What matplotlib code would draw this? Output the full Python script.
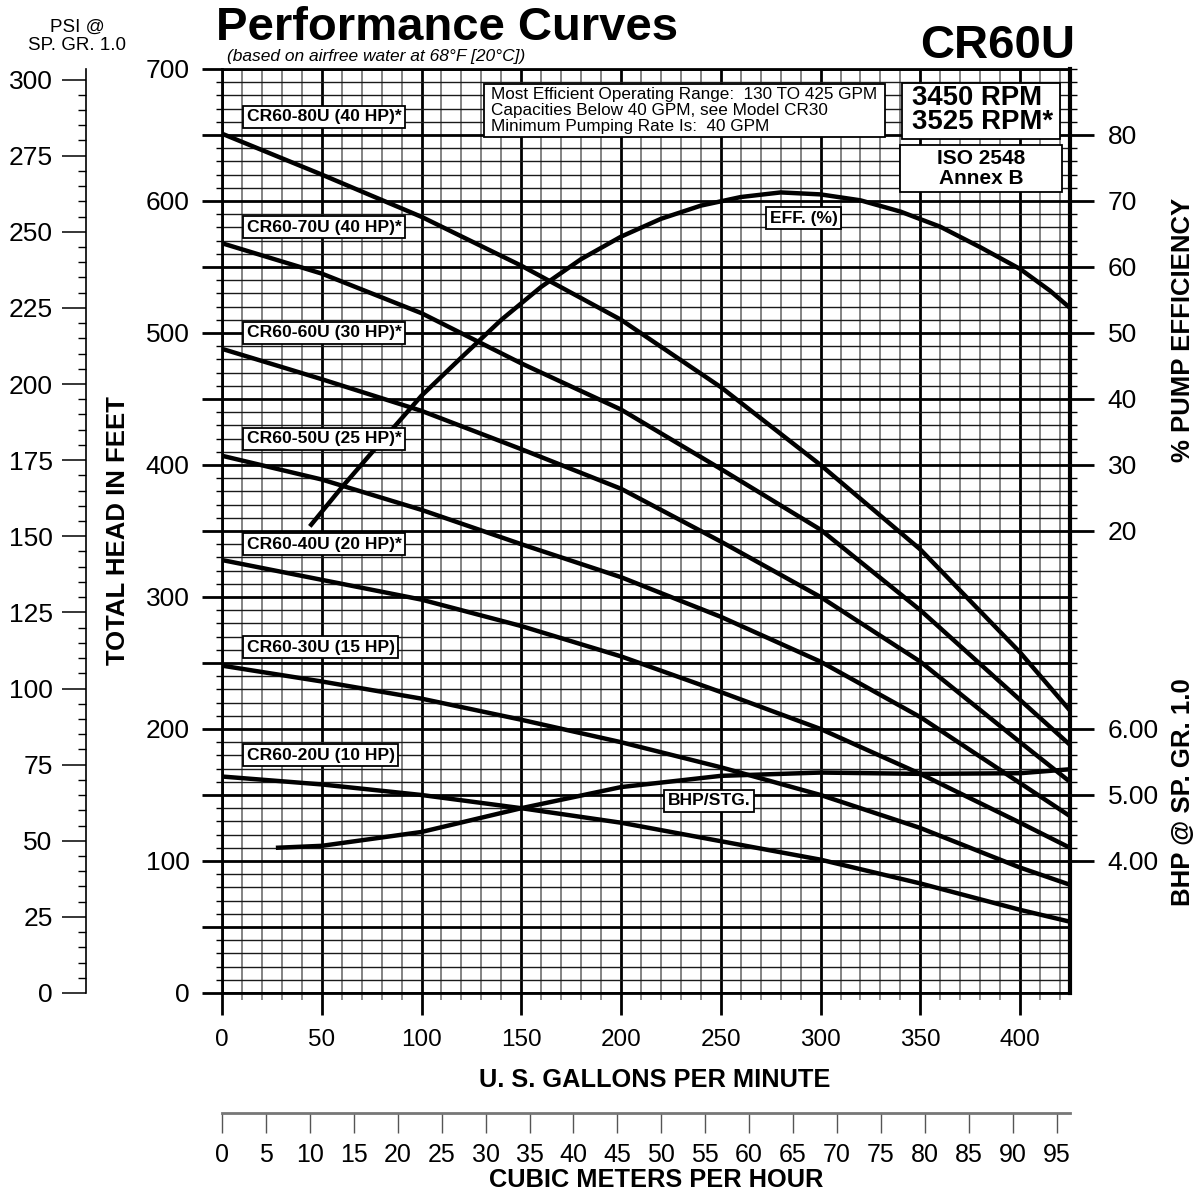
import matplotlib
matplotlib.use("Agg")
import matplotlib.pyplot as plt
from matplotlib.ticker import MultipleLocator, FixedLocator, FuncFormatter, FormatStrFormatter, NullLocator
from matplotlib.patches import Rectangle

plt.rcParams['font.family'] = ['Liberation Sans', 'DejaVu Sans']

# ---------------- data ----------------
flow_gpm = [0, 50, 100, 150, 200, 250, 300, 350, 400, 425]
model_names = ["CR60-80U (40 HP)*", "CR60-70U (40 HP)*", "CR60-60U (30 HP)*",
               "CR60-50U (25 HP)*", "CR60-40U (20 HP)*", "CR60-30U (15 HP)",
               "CR60-20U (10 HP)"]
head_80u = [651, 620, 588, 551, 510, 459, 400, 336, 258, 214]
head_70u = [568, 545, 515, 477, 442, 397, 351, 290, 222, 188]
head_60u = [488, 465, 441, 412, 382, 342, 300, 251, 190, 160]
head_50u = [407, 389, 366, 340, 315, 285, 251, 209, 159, 134]
head_40u = [328, 313, 298, 278, 255, 228, 200, 166, 129, 110]
head_30u = [248, 236, 223, 207, 190, 171, 150, 125, 95, 82]
head_20u = [164, 158, 150, 140, 129, 115, 101, 83, 63, 54]
heads = [head_80u, head_70u, head_60u, head_50u, head_40u, head_30u, head_20u]
label_heads = [664, 580, 500, 420, 340, 262, 180]

eff_gpm = [44, 60, 80, 100, 120, 140, 160, 180, 200, 220, 240, 260, 280, 300,
           320, 340, 360, 380, 400, 415, 425]
eff_pct = [20.7, 26.6, 33.6, 40.5, 46.3, 52.0, 57.0, 61.2, 64.6, 67.3, 69.3, 70.6, 71.3, 71.0,
           70.1, 68.4, 66.1, 63.0, 59.7, 56.4, 53.8]

bhp_gpm = [27, 50, 100, 150, 200, 250, 300, 350, 400, 425]
bhp_stage = [4.20, 4.23, 4.44, 4.80, 5.12, 5.29, 5.34, 5.32, 5.33, 5.39]

psi_ticks = list(range(0, 301, 25))
cmh_ticks = list(range(0, 96, 5))
eff_ticks = [20, 30, 40, 50, 60, 70, 80]
bhp_ticks = [4.0, 5.0, 6.0]

PSI_PER_FT = 0.4335
CMH_PER_GPM = 0.2271

# ---------------- figure ----------------
W, H = 1204, 1196
fig = plt.figure(figsize=(W / 100, H / 100), dpi=100)


def fx(px):
    return px / W


def fy(py):
    return 1 - py / H


X0, X1, Y0, Y1 = 222, 1070, 993, 69
ax = fig.add_axes([fx(X0), fy(Y0), fx(X1) - fx(X0), fy(Y1) - fy(Y0)])
ax.set_xlim(0, 425)
ax.set_ylim(0, 700)
ax.xaxis.set_major_locator(MultipleLocator(50))
ax.xaxis.set_minor_locator(MultipleLocator(10))
ax.yaxis.set_major_locator(MultipleLocator(50))
ax.yaxis.set_minor_locator(MultipleLocator(10))
ax.xaxis.set_major_formatter(FuncFormatter(lambda v, p: f"{int(round(v))}"))
ax.yaxis.set_major_formatter(FuncFormatter(lambda v, p: f"{int(round(v))}" if round(v) % 100 == 0 else ""))
ax.xaxis.grid(True, which='major', color='black', lw=2.0)
ax.xaxis.grid(True, which='minor', color='#7a7a7a', lw=1.3)
ax.yaxis.grid(True, which='major', color='black', lw=2.0)
ax.yaxis.grid(True, which='minor', color='#1a1a1a', lw=1.0)
ax.set_axisbelow(True)
ax.tick_params(axis='x', which='major', direction='out', length=16, width=2, pad=10, labelsize=17.5)
ax.tick_params(axis='x', which='minor', direction='out', length=5, width=1.2, color='#777777')
ax.tick_params(axis='y', which='major', direction='out', length=14.4, width=2, pad=9, labelsize=19)
ax.tick_params(axis='y', which='minor', direction='out', length=4.3, width=1)
for s in ['top', 'left', 'bottom']:
    ax.spines[s].set_linewidth(2)
ax.spines['right'].set_linewidth(3)

for h in heads:
    ax.plot(flow_gpm, h, color='black', lw=3.2, solid_capstyle='butt', zorder=4)

# efficiency axis (right)
ax_eff = ax.twinx()
ax_eff.set_ylim((0 - 250) / 5, (700 - 250) / 5)
ax_eff.plot(eff_gpm, eff_pct, color='black', lw=3.2, solid_capstyle='butt', zorder=4)
ax_eff.yaxis.set_major_locator(FixedLocator(eff_ticks))
ax_eff.yaxis.set_minor_locator(FixedLocator([v / 5 for v in range(-150, 451, 10)]))
ax_eff.yaxis.set_major_formatter(FormatStrFormatter('%d'))
ax_eff.tick_params(axis='y', which='major', length=17, width=2, pad=10, labelsize=19)
ax_eff.tick_params(axis='y', which='minor', length=5, width=1)
for s in ax_eff.spines.values():
    s.set_visible(False)

# BHP axis (right)
ax_bhp = ax.twinx()
ax_bhp.set_ylim((0 + 100) / 50, (700 + 100) / 50)
ax_bhp.plot(bhp_gpm, bhp_stage, color='black', lw=3.2, solid_capstyle='butt', zorder=4)
ax_bhp.yaxis.set_major_locator(FixedLocator(bhp_ticks))
ax_bhp.yaxis.set_minor_locator(NullLocator())
ax_bhp.yaxis.set_major_formatter(FormatStrFormatter('%.2f'))
ax_bhp.tick_params(axis='y', which='major', length=17, width=2, pad=10, labelsize=19)
for s in ax_bhp.spines.values():
    s.set_visible(False)

# curve labels (on top of everything)
box_kw = dict(boxstyle='square,pad=0.2', fc='white', ec='black', lw=1.3)
for name, hy in zip(model_names, label_heads):
    ax_bhp.text(12.3, hy, name, transform=ax.transData, fontsize=12.6, fontweight='bold',
                va='center', ha='left', bbox=box_kw, zorder=10)
ax_bhp.text(274.5, 587, "EFF. (%)", transform=ax.transData, fontsize=12.6, fontweight='bold',
            va='center', ha='left', bbox=box_kw, zorder=10)
ax_bhp.text(223.5, 145.5, "BHP/STG.", transform=ax.transData, fontsize=12.6, fontweight='bold',
            va='center', ha='left', bbox=box_kw, zorder=10)

# PSI axis (far left)
axp = fig.add_axes([fx(86), fy(Y0), 0.0005, fy(Y1) - fy(Y0)])
axp.set_ylim(0, 700 * PSI_PER_FT)
axp.patch.set_visible(False)
axp.xaxis.set_visible(False)
for s in ['top', 'right', 'bottom']:
    axp.spines[s].set_visible(False)
axp.spines['left'].set_linewidth(1.2)
axp.yaxis.set_major_locator(FixedLocator(psi_ticks))
axp.yaxis.set_minor_locator(MultipleLocator(5))
axp.tick_params(axis='y', which='major', length=17, width=1.1, pad=7, labelsize=19)
axp.tick_params(axis='y', which='minor', length=6, width=1)

# cubic meters axis (bottom)
axm = fig.add_axes([fx(X0), fy(1113), fx(X1) - fx(X0), 0.0005])
axm.set_xlim(0, 425 * CMH_PER_GPM)
axm.patch.set_visible(False)
axm.yaxis.set_visible(False)
for s in ['top', 'right', 'left']:
    axm.spines[s].set_visible(False)
axm.spines['bottom'].set_color('#777777')
axm.spines['bottom'].set_linewidth(2)
axm.xaxis.set_major_locator(FixedLocator(cmh_ticks))
axm.tick_params(axis='x', which='major', direction='out', length=14.4, width=1, color='#555555',
                pad=7, labelsize=18)

# axis titles
fig.text(fx(655), fy(1080), "U. S. GALLONS PER MINUTE", fontsize=18.3, fontweight='bold', ha='center', va='center')
fig.text(fx(656), fy(1180), "CUBIC METERS PER HOUR", fontsize=18.3, fontweight='bold', ha='center', va='center')
fig.text(fx(118), fy(531), "TOTAL HEAD IN FEET", fontsize=18.5, fontweight='bold', ha='center', va='center', rotation=90)
fig.text(fx(1183), fy(330), "% PUMP EFFICIENCY", fontsize=18.5, fontweight='bold', ha='center', va='center', rotation=90)
fig.text(fx(1183), fy(792), "BHP @ SP. GR. 1.0", fontsize=18.5, fontweight='bold', ha='center', va='center', rotation=90)

# headings
fig.text(fx(216), fy(28), "Performance Curves", fontsize=34, fontweight='bold', ha='left', va='center')
fig.text(fx(227), fy(57), "(based on airfree water at 68°F [20°C])", fontsize=12.5, style='italic', ha='left', va='center')
fig.text(fx(1075), fy(46), "CR60U", fontsize=34, fontweight='bold', ha='right', va='center')
fig.text(fx(77), fy(27), "PSI @", fontsize=13.5, ha='center', va='center')
fig.text(fx(77), fy(46), "SP. GR. 1.0", fontsize=13.5, ha='center', va='center')


def fig_box(x0, y0, x1, y1):
    fig.add_artist(Rectangle((fx(x0), fy(y1)), fx(x1) - fx(x0), fy(y0) - fy(y1),
                             transform=fig.transFigure, fc='white', ec='black', lw=1.3, zorder=5))


fig_box(484, 84, 885, 137)
info_lines = ["Most Efficient Operating Range:  130 TO 425 GPM",
              "Capacities Below 40 GPM, see Model CR30",
              "Minimum Pumping Rate Is:  40 GPM"]
for i, line in enumerate(info_lines):
    fig.text(fx(491), fy(94 + 16.5 * i), line, fontsize=12.3, ha='left', va='center', zorder=6)

fig_box(902, 83, 1060, 139)
fig.text(fx(912), fy(98), "3450 RPM", fontsize=19.8, fontweight='bold', ha='left', va='center', zorder=6)
fig.text(fx(912), fy(122), "3525 RPM*", fontsize=19.8, fontweight='bold', ha='left', va='center', zorder=6)

fig_box(900, 145, 1062, 192)
fig.text(fx(981), fy(158.5), "ISO 2548", fontsize=15, fontweight='bold', ha='center', va='center', zorder=6)
fig.text(fx(981), fy(178), "Annex B", fontsize=15, fontweight='bold', ha='center', va='center', zorder=6)

fig.savefig("out.png", dpi=100)
